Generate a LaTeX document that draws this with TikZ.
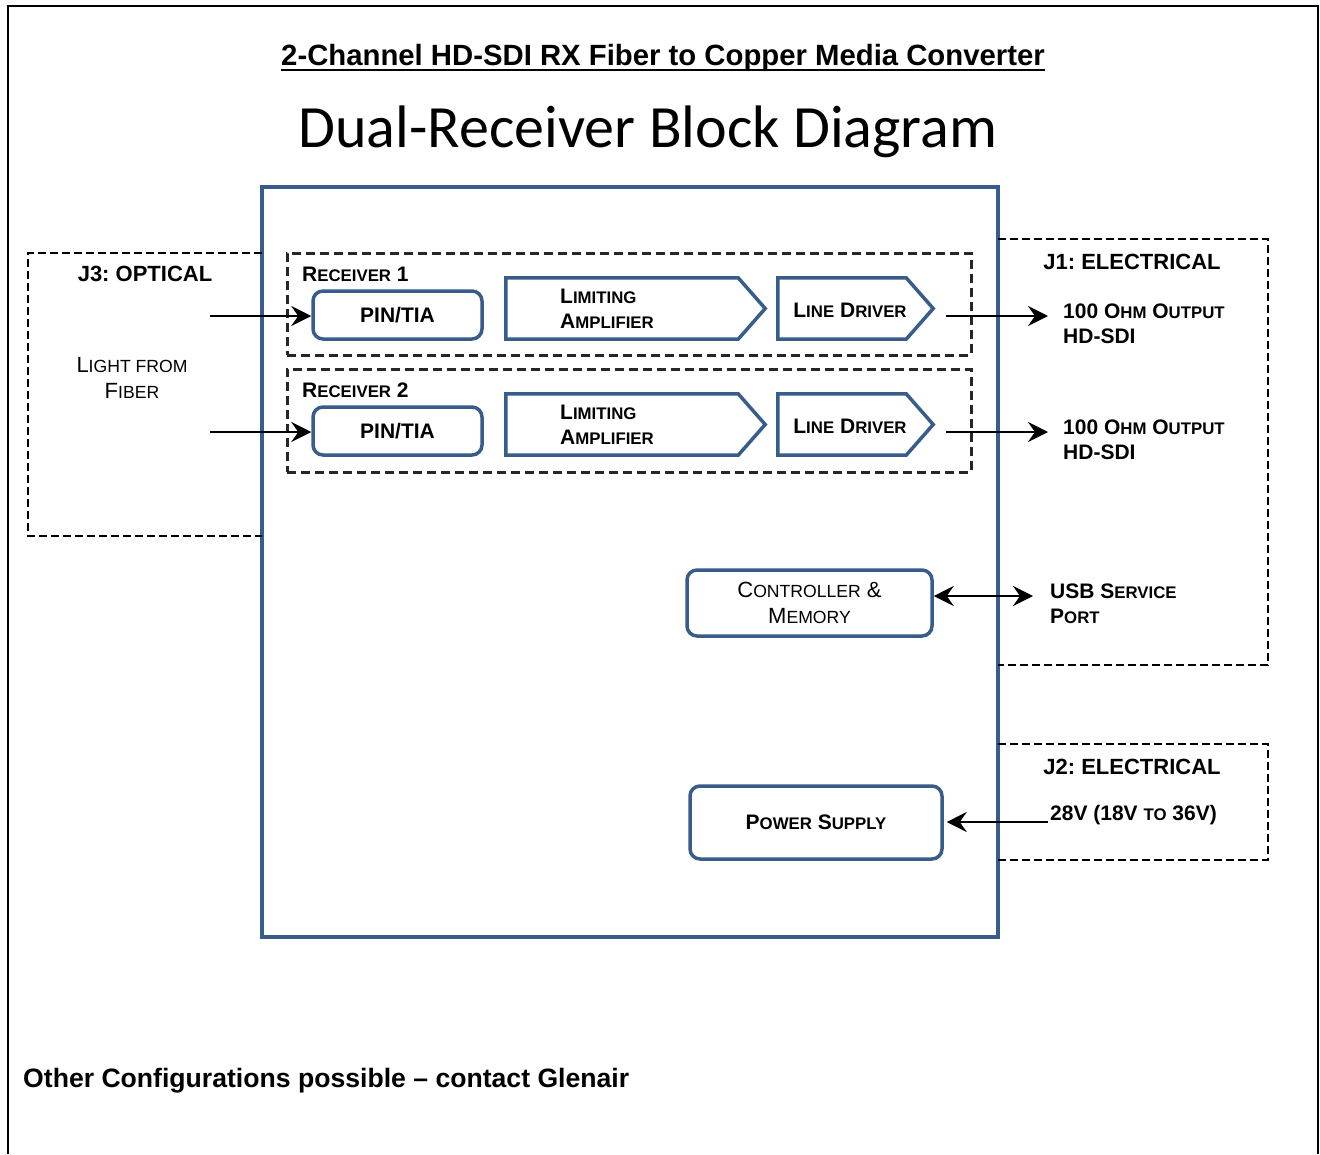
\documentclass[tikz,border=0pt]{standalone}
\usepackage{fontspec}
\setmainfont{Liberation Sans}
\newfontfamily\calib{Carlito}
\usetikzlibrary{arrows.meta}
\definecolor{bx}{RGB}{56,93,138}
\makeatletter
\newcommand\smc[1]{{\fontsize{\strip@pt\dimexpr\f@size pt*80/100\relax}{\f@baselineskip}\selectfont #1}}
\makeatother
\frenchspacing
\begin{document}
\begin{tikzpicture}[x=1pt,y=-1pt,
  jbox/.style={draw, line width=2.5pt, dash pattern=on 8pt off 4pt},
  rbox/.style={draw=black!85, line width=3pt, dash pattern=on 9pt off 5pt},
  blu/.style={draw=bx, line width=3.5pt},
  rnd/.style={blu, rounded corners=10pt, inner sep=0pt},
  sig/.style={inner sep=0pt},
  arr/.style={line width=2.5pt, -{Stealth[length=20pt,width=20pt,inset=7pt]}},
  darr/.style={line width=2.5pt, {Stealth[length=20pt,width=20pt,inset=7pt]}-{Stealth[length=20pt,width=20pt,inset=7pt]}},
  bl/.style={font=\fontsize{21}{25}\selectfont\bfseries, inner sep=0pt},
  nl/.style={font=\fontsize{22}{26}\selectfont, inner sep=0pt},
  jl/.style={font=\fontsize{22}{26}\selectfont\bfseries, inner sep=0pt}]
\useasboundingbox (0,0) rectangle (1320,1154);
% outer frame
\draw[line width=2pt] (8,1154) -- (8,6) -- (1318,6) -- (1318,1154);
% titles
\node[inner sep=0pt, anchor=base, font=\fontsize{29.3}{34}\selectfont\bfseries] (title) at (663,65) {2-Channel HD-SDI RX Fiber to Copper Media Converter};
\draw[line width=2.5pt] ([yshift=-5pt]title.base west) -- ([yshift=-5pt]title.base east);
\node[inner sep=0pt, anchor=base, font=\calib\fontsize{60}{66}\selectfont] (sub) at (648,147) {Dual-Receiver Block Diagram};
% main box
\node[blu, minimum width=736pt, minimum height=750pt, inner sep=0pt, fill=white] (main) at (630,562) {};
% connector boxes
\draw[jbox] (998,239) -- (1268,239) -- (1268,665) -- (998,665);
\draw[jbox] (998,744) -- (1268,744) -- (1268,860) -- (998,860);
\draw[jbox] (262,253) -- (28,253) -- (28,536) -- (262,536);
% receiver boxes
\node[rbox, minimum width=684pt, minimum height=102pt, inner sep=0pt] (rec1) at (629,304) {};
\node[rbox, minimum width=684pt, minimum height=103pt, inner sep=0pt] (rec2) at (629,420.5) {};
\node[bl, anchor=west] (rl1) at (302,274) {R\smc{ECEIVER} 1};
\node[bl, anchor=west] (rl2) at (302,390) {R\smc{ECEIVER} 2};
% row blocks
\foreach \i/\y in {1/0,2/116}{
  \node[rnd, minimum width=169pt, minimum height=48pt, bl] (pin\i) at (397.5,315+\y) {PIN/TIA};
  \node[sig, minimum width=259pt, minimum height=61pt] (la\i) at (635.5,308.5+\y) {};
  \draw[blu, line join=miter] (la\i.north west) -- ([xshift=-27pt]la\i.north east) -- (la\i.east) -- ([xshift=-27pt]la\i.south east) -- (la\i.south west) -- cycle;
  \node[bl, anchor=west, align=left] (lat\i) at (560,309+\y) {L\smc{IMITING}\\A\smc{MPLIFIER}};
  \node[sig, minimum width=155pt, minimum height=61pt] (ld\i) at (855.5,308.5+\y) {};
  \draw[blu, line join=miter] (ld\i.north west) -- ([xshift=-27pt]ld\i.north east) -- (ld\i.east) -- ([xshift=-27pt]ld\i.south east) -- (ld\i.south west) -- cycle;
  \node[bl] (ldt\i) at (850,310+\y) {L\smc{INE} D\smc{RIVER}};
  \coordinate (in\i) at (210,316+\y);
  \coordinate (os\i) at (946,316+\y);
  \coordinate (oe\i) at (1048,316+\y);
  \draw[arr] (in\i) -- (pin\i.west |- in\i);
  \draw[arr] (os\i) -- (oe\i);
  \node[bl, anchor=west, align=left] (out\i) at (1063,324+\y) {100 O\smc{HM} O\smc{UTPUT}\\HD-SDI};
}
% labels in connector boxes
\node[jl] (j3l) at (145,274) {J3: OPTICAL};
\node[nl, align=center] (lff) at (132,378) {L\smc{IGHT FROM}\\F\smc{IBER}};
\node[jl] (j1l) at (1132,262) {J1: ELECTRICAL};
\node[jl] (j2l) at (1132,767) {J2: ELECTRICAL};
% controller
\node[rnd, minimum width=245pt, minimum height=66pt, nl, align=center] (cm) at (809.5,603) {C\smc{ONTROLLER} \&\\M\smc{EMORY}};
\coordinate (usb) at (1033,596);
\draw[darr] ([yshift=7pt]cm.east) -- (usb);
\node[bl, anchor=west, align=left] (usbt) at (1050,604) {USB S\smc{ERVICE}\\P\smc{ORT}};
% power
\node[rnd, minimum width=252pt, minimum height=73pt, bl] (ps) at (816,822.5) {P\smc{OWER} S\smc{UPPLY}};
\coordinate (pwr) at (1048,822);
\draw[arr] (pwr) -- ([xshift=3pt]ps.east |- pwr);
\node[bl, anchor=west] (v28) at (1050,815) {28V (18V \smc{TO} 36V)};
% footer
\node[inner sep=0pt, anchor=west, font=\fontsize{26.6}{30}\selectfont\bfseries] (foot) at (23,1081) {Other Configurations possible -- contact Glenair};
\end{tikzpicture}
\end{document}
